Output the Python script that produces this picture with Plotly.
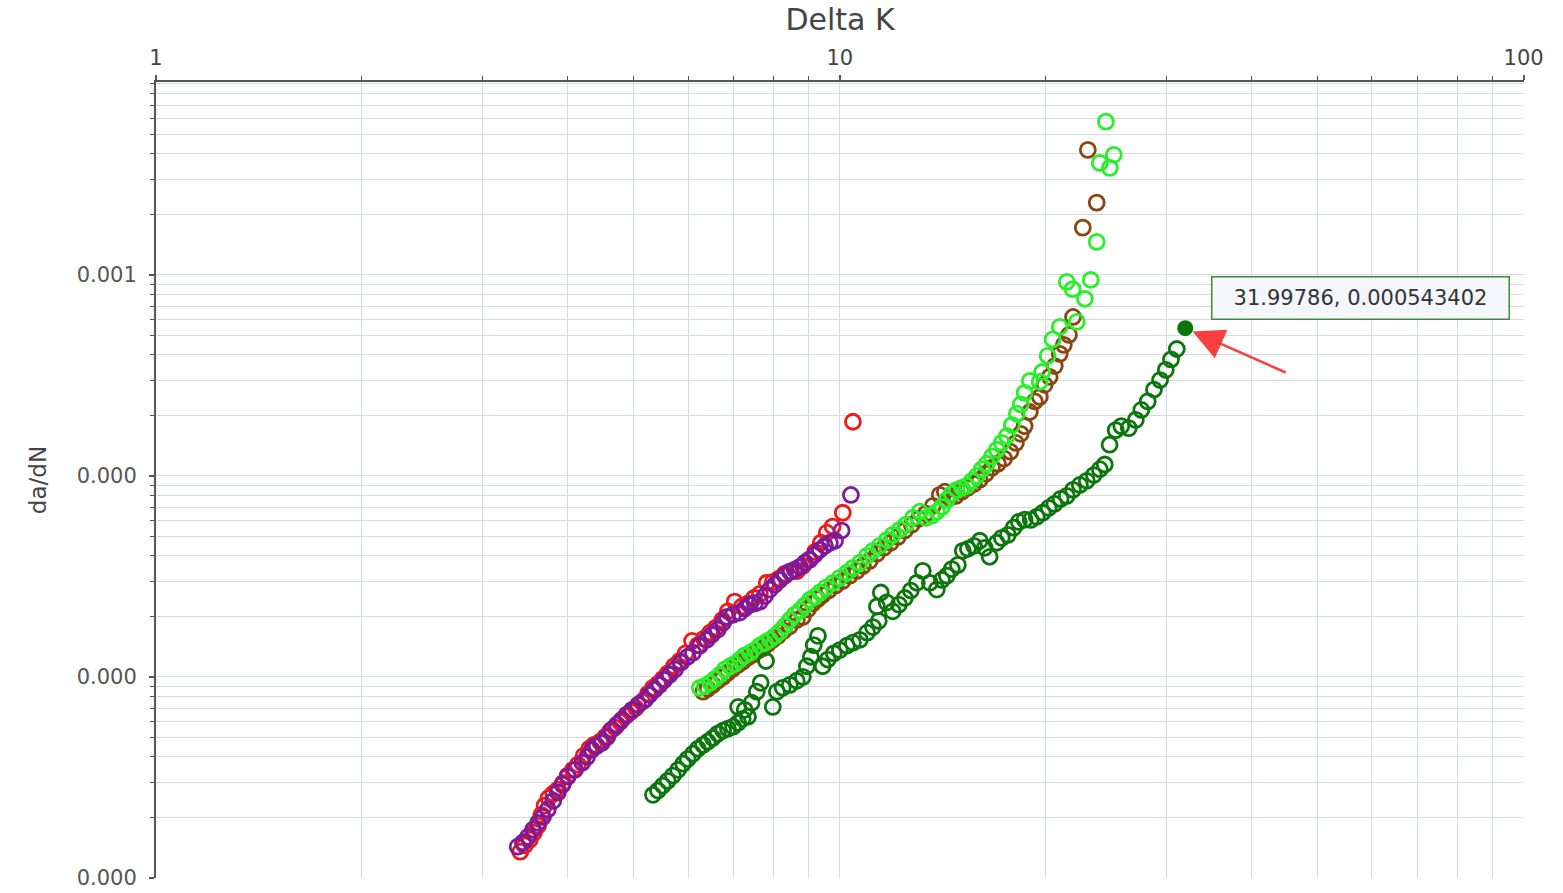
import math
import plotly.graph_objects as go

# Crack growth rate da/dN versus stress intensity range Delta K, five specimens.
red_dk = [3.41, 3.46, 3.52, 3.57, 3.62, 3.66, 3.70, 3.75, 3.81, 3.87, 3.94, 4.00, 4.07, 4.14, 4.22,
          4.30, 4.37, 4.46, 4.54, 4.61, 4.69, 4.77, 4.87, 4.95, 5.03, 5.14, 5.24, 5.33, 5.42, 5.51,
          5.60, 5.72, 5.83, 5.95, 6.08, 6.20, 6.33, 6.46, 6.59, 6.73, 6.86, 7.02, 7.19, 7.34, 7.49,
          7.64, 7.82, 7.98, 8.14, 8.31, 8.48, 8.65, 8.83, 9.01, 9.20, 9.38, 9.57, 9.76, 10.10, 10.45]
red_dadn = [1.35e-6, 1.45e-6, 1.55e-6, 1.68e-6, 1.82e-6, 2.06e-6, 2.29e-6, 2.50e-6, 2.63e-6, 2.75e-6,
            2.97e-6, 3.23e-6, 3.45e-6, 3.66e-6, 4.05e-6, 4.39e-6, 4.59e-6, 4.76e-6, 5.03e-6, 5.35e-6,
            5.60e-6, 5.97e-6, 6.41e-6, 6.71e-6, 7.01e-6, 7.53e-6, 8.24e-6, 8.83e-6, 9.24e-6, 9.78e-6,
            1.04e-5, 1.13e-5, 1.20e-5, 1.31e-5, 1.51e-5, 1.44e-5, 1.55e-5, 1.66e-5, 1.76e-5, 1.92e-5,
            2.12e-5, 2.37e-5, 2.24e-5, 2.32e-5, 2.47e-5, 2.59e-5, 2.94e-5, 2.97e-5, 3.08e-5, 3.26e-5,
            3.34e-5, 3.36e-5, 3.57e-5, 3.83e-5, 4.19e-5, 4.65e-5, 5.22e-5, 5.60e-5, 6.56e-5, 1.86e-4]

purple_dk = [3.38, 3.44, 3.50, 3.56, 3.62, 3.68, 3.74, 3.81, 3.87, 3.93, 4.00, 4.10, 4.20, 4.27, 4.34,
             4.41, 4.49, 4.57, 4.64, 4.72, 4.80, 4.88, 4.97, 5.07, 5.19, 5.27, 5.36, 5.45, 5.54, 5.64,
             5.74, 5.86, 5.99, 6.10, 6.24, 6.39, 6.50, 6.63, 6.75, 6.84, 6.98, 7.14, 7.26, 7.39, 7.51,
             7.64, 7.77, 7.90, 8.04, 8.17, 8.31, 8.45, 8.59, 8.74, 8.89, 9.04, 9.19, 9.35, 9.51, 9.67,
             9.84, 10.06, 10.38]
purple_dadn = [1.43e-6, 1.50e-6, 1.60e-6, 1.74e-6, 1.88e-6, 2.01e-6, 2.19e-6, 2.42e-6, 2.66e-6, 2.91e-6,
               3.19e-6, 3.45e-6, 3.74e-6, 4.00e-6, 4.34e-6, 4.54e-6, 4.70e-6, 5.03e-6, 5.47e-6, 5.79e-6,
               6.12e-6, 6.49e-6, 6.86e-6, 7.27e-6, 7.70e-6, 8.15e-6, 8.63e-6, 9.13e-6, 9.67e-6, 1.025e-5,
               1.09e-5, 1.18e-5, 1.26e-5, 1.32e-5, 1.43e-5, 1.53e-5, 1.62e-5, 1.72e-5, 1.86e-5, 1.99e-5,
               2.04e-5, 2.09e-5, 2.19e-5, 2.29e-5, 2.32e-5, 2.37e-5, 2.53e-5, 2.72e-5, 2.88e-5, 3.04e-5,
               3.19e-5, 3.34e-5, 3.42e-5, 3.53e-5, 3.70e-5, 3.83e-5, 4.05e-5, 4.29e-5, 4.49e-5, 4.65e-5,
               4.76e-5, 5.35e-5, 8.04e-5]

brown_dk = [6.31, 6.41, 6.52, 6.63, 6.75, 6.86, 6.98, 7.10, 7.21, 7.34, 7.46, 7.59, 7.72, 7.85, 7.98,
            8.12, 8.28, 8.45, 8.65, 8.83, 8.98, 9.13, 9.29, 9.44, 9.63, 9.86, 10.10, 10.34, 10.59, 10.81,
            11.06, 11.33, 11.60, 11.87, 12.16, 12.45, 12.74, 13.05, 13.36, 13.68, 14.00, 14.24, 14.48,
            14.78, 15.08, 15.39, 15.71, 16.02, 16.35, 16.69, 17.03, 17.39, 17.76, 18.09, 18.39, 18.63,
            18.96, 19.28, 19.61, 19.93, 20.27, 20.62, 20.97, 21.26, 21.63, 21.93, 22.66, 23.75, 23.05]
brown_dadn = [8.44e-6, 8.73e-6, 9.13e-6, 9.57e-6, 1.00e-5, 1.05e-5, 1.10e-5, 1.15e-5, 1.19e-5, 1.25e-5,
              1.29e-5, 1.35e-5, 1.39e-5, 1.46e-5, 1.53e-5, 1.60e-5, 1.70e-5, 1.79e-5, 1.92e-5, 1.99e-5,
              2.17e-5, 2.32e-5, 2.44e-5, 2.56e-5, 2.69e-5, 2.85e-5, 3.00e-5, 3.19e-5, 3.37e-5, 3.57e-5,
              3.78e-5, 4.10e-5, 4.39e-5, 4.65e-5, 4.97e-5, 5.35e-5, 5.72e-5, 6.12e-5, 6.50e-5, 7.10e-5,
              8.05e-5, 8.35e-5, 7.80e-5, 7.96e-5, 8.35e-5, 8.73e-5, 9.13e-5, 9.57e-5, 1.025e-4, 1.10e-4,
              1.15e-4, 1.22e-4, 1.32e-4, 1.46e-4, 1.62e-4, 1.77e-4, 2.08e-4, 2.35e-4, 2.47e-4, 2.84e-4,
              3.11e-4, 3.52e-4, 4.05e-4, 4.49e-4, 5.03e-4, 6.18e-4, 1.72e-3, 2.29e-3, 4.19e-3]

lime_dk = [6.24, 6.35, 6.46, 6.57, 6.68, 6.79, 6.91, 7.02, 7.14, 7.26, 7.39, 7.51, 7.64, 7.77, 7.90,
           8.04, 8.17, 8.31, 8.45, 8.59, 8.74, 8.89, 9.04, 9.19, 9.35, 9.54, 9.77, 10.00, 10.24, 10.45,
           10.70, 10.96, 11.18, 11.44, 11.72, 11.95, 12.24, 12.49, 12.79, 13.09, 13.36, 13.63, 13.86,
           14.10, 14.34, 14.58, 14.83, 15.08, 15.34, 15.60, 15.86, 16.13, 16.40, 16.69, 16.97, 17.25,
           17.55, 17.85, 18.15, 18.39, 18.63, 18.96, 19.60, 19.76, 20.13, 20.47, 20.97, 22.21, 22.82,
           21.47, 21.90, 23.28, 23.75, 24.00, 24.82, 25.15, 24.50]
lime_dadn = [8.83e-6, 9.02e-6, 9.35e-6, 9.78e-6, 1.025e-5, 1.09e-5, 1.13e-5, 1.16e-5, 1.22e-5, 1.28e-5,
             1.32e-5, 1.36e-5, 1.43e-5, 1.48e-5, 1.53e-5, 1.60e-5, 1.68e-5, 1.79e-5, 1.92e-5, 2.04e-5,
             2.14e-5, 2.27e-5, 2.42e-5, 2.50e-5, 2.63e-5, 2.78e-5, 2.94e-5, 3.11e-5, 3.30e-5, 3.49e-5,
             3.70e-5, 4.00e-5, 4.24e-5, 4.49e-5, 4.81e-5, 5.09e-5, 5.41e-5, 5.72e-5, 6.19e-5, 6.64e-5,
             6.19e-5, 6.34e-5, 6.64e-5, 7.01e-5, 7.61e-5, 8.15e-5, 8.53e-5, 8.73e-5, 8.92e-5, 9.46e-5,
             1.00e-4, 1.08e-4, 1.15e-4, 1.25e-4, 1.35e-4, 1.46e-4, 1.58e-4, 1.79e-4, 2.04e-4, 2.27e-4,
             2.59e-4, 2.97e-4, 2.94e-4, 3.29e-4, 3.96e-4, 4.78e-4, 5.52e-4, 5.84e-4, 7.61e-4, 9.24e-4,
             8.50e-4, 9.46e-4, 1.46e-3, 3.61e-3, 3.41e-3, 3.96e-3, 5.79e-3]

green_dk = [5.33, 5.42, 5.51, 5.60, 5.70, 5.80, 5.90, 5.99, 6.10, 6.20, 6.31, 6.41, 6.52, 6.63, 6.75,
            6.86, 6.98, 7.10, 7.21, 7.34, 7.10, 7.26, 7.43, 7.56, 7.66, 7.80, 7.98, 8.09, 8.25, 8.45,
            8.65, 8.83, 8.95, 9.07, 9.16, 9.29, 9.44, 9.60, 9.80, 10.00, 10.24, 10.45, 10.70, 10.96,
            11.18, 11.40, 11.33, 11.48, 11.71, 11.95, 12.20, 12.45, 12.70, 12.96, 13.22, 13.54, 13.86,
            14.10, 14.34, 14.58, 14.88, 15.13, 15.39, 15.71, 16.02, 16.29, 16.56, 16.96, 17.25, 17.61,
            17.96, 18.27, 18.63, 19.02, 19.41, 19.80, 20.20, 20.60, 21.03, 21.47, 21.93, 22.44, 22.97,
            23.52, 24.00, 24.40, 24.80, 25.32, 25.80, 26.46, 27.09, 27.60, 28.20, 28.80, 29.40, 29.97,
            30.50, 31.10]
green_dadn = [2.59e-6, 2.72e-6, 2.88e-6, 3.04e-6, 3.23e-6, 3.45e-6, 3.70e-6, 3.91e-6, 4.15e-6, 4.39e-6,
              4.59e-6, 4.76e-6, 4.97e-6, 5.22e-6, 5.41e-6, 5.53e-6, 5.66e-6, 5.91e-6, 6.19e-6, 6.34e-6,
              7.09e-6, 6.86e-6, 7.44e-6, 8.44e-6, 9.35e-6, 1.20e-5, 7.09e-6, 8.44e-6, 8.83e-6, 9.13e-6,
              9.57e-6, 1.00e-5, 1.13e-5, 1.26e-5, 1.44e-5, 1.60e-5, 1.13e-5, 1.22e-5, 1.31e-5, 1.36e-5,
              1.43e-5, 1.48e-5, 1.53e-5, 1.66e-5, 1.77e-5, 1.90e-5, 2.24e-5, 2.63e-5, 2.35e-5, 2.12e-5,
              2.29e-5, 2.47e-5, 2.69e-5, 2.94e-5, 3.37e-5, 2.94e-5, 2.72e-5, 3.04e-5, 3.19e-5, 3.44e-5,
              3.61e-5, 4.24e-5, 4.34e-5, 4.49e-5, 4.76e-5, 4.39e-5, 3.96e-5, 4.65e-5, 4.92e-5, 5.09e-5,
              5.53e-5, 5.91e-5, 6.06e-5, 6.04e-5, 6.26e-5, 6.56e-5, 6.93e-5, 7.26e-5, 7.69e-5, 7.96e-5,
              8.53e-5, 9.02e-5, 9.46e-5, 1.01e-4, 1.08e-4, 1.14e-4, 1.43e-4, 1.69e-4, 1.77e-4, 1.73e-4,
              1.90e-4, 2.13e-4, 2.35e-4, 2.69e-4, 3.00e-4, 3.37e-4, 3.80e-4, 4.28e-4]

# Selected point shown with its value label
picked_dk = 31.99786
picked_dadn = 0.000543402

x_major = [1, 10, 100]
x_labels = ["1", "10", "100"]
y_major = [1e-6, 1e-5, 1e-4, 1e-3]
y_labels = ["0.000", "0.000", "0.000", "0.001"]
x_minor = [k * 10 ** e for e in (0, 1) for k in range(2, 10)]
y_minor = [k * 10.0 ** e for e in (-6, -5, -4, -3) for k in range(2, 10)]

FONT = "DejaVu Sans"
GRID = "#d5dae5"
AXIS = "#555555"


def open_markers(x, y, color, name):
    return go.Scatter(
        x=x, y=y, mode="markers", name=name, hoverinfo="x+y",
        marker=dict(symbol="circle-open", size=15, color=color,
                    line=dict(width=2.8, color=color)),
    )


fig = go.Figure()
fig.add_trace(open_markers(red_dk, red_dadn, "#f01818", "Specimen 1"))
fig.add_trace(open_markers(purple_dk, purple_dadn, "#7d1a9c", "Specimen 2"))
fig.add_trace(open_markers(brown_dk, brown_dadn, "#8b4513", "Specimen 3"))
fig.add_trace(open_markers(lime_dk, lime_dadn, "#28f028", "Specimen 4"))
fig.add_trace(open_markers(green_dk, green_dadn, "#0c760c", "Specimen 5"))
fig.add_trace(go.Scatter(
    x=[picked_dk], y=[picked_dadn], mode="markers", name="Selected",
    marker=dict(symbol="circle", size=16, color="#0c760c"),
))

fig.update_layout(
    width=1563, height=893,
    margin=dict(l=156, r=39, t=82, b=15, autoexpand=False),
    paper_bgcolor="white", plot_bgcolor="white",
    showlegend=False,
    font=dict(family=FONT, color="#555555"),
)

fig.update_xaxes(
    type="log", range=[0, 2.0005], side="top", automargin=False,
    tickmode="array", tickvals=x_major, ticktext=x_labels,
    showline=True, linecolor=AXIS, linewidth=2,
    ticks="outside", ticklen=5, tickwidth=1.5, tickcolor=AXIS,
    ticklabelstandoff=2,
    showgrid=True, gridcolor=GRID, gridwidth=1.3, zeroline=False,
    tickfont=dict(family=FONT, size=21, color="#444444"),
    title=dict(text="Delta K", font=dict(family=FONT, size=30, color="#444444"), standoff=6),
    minor=dict(tickvals=x_minor, ticks="outside", ticklen=4, tickwidth=1.2, tickcolor=AXIS,
               showgrid=True, gridcolor=GRID, gridwidth=1.3),
)

fig.update_yaxes(
    type="log", range=[-6.0005, -2.04], automargin=False,
    tickmode="array", tickvals=y_major, ticktext=y_labels,
    showline=True, linecolor=AXIS, linewidth=2,
    ticks="outside", ticklen=5, tickwidth=1.5, tickcolor=AXIS,
    ticklabelstandoff=8,
    showgrid=True, gridcolor=GRID, gridwidth=1.3, zeroline=False,
    tickfont=dict(family=FONT, size=21, color="#555555"),
    title=dict(text="da/dN", font=dict(family=FONT, size=23, color="#444444"), standoff=24),
    minor=dict(tickvals=y_minor, ticks="outside", ticklen=4, tickwidth=1.2, tickcolor=AXIS,
               showgrid=True, gridcolor=GRID, gridwidth=1.3),
)

# Log axes place annotations in log10 units
px_log = math.log10(picked_dk)
py_log = math.log10(picked_dadn)

# Red pointer towards the selected point
fig.add_annotation(
    x=px_log, y=py_log, xref="x", yref="y",
    ax=102, ay=45, axref="pixel", ayref="pixel",
    text="", showarrow=True,
    arrowhead=2, arrowsize=2.4, arrowwidth=2.6,
    arrowcolor="rgba(250,30,30,0.85)", standoff=8,
)

# Value label box
fig.add_annotation(
    x=px_log, y=py_log, xref="x", yref="y",
    text=f"{picked_dk}, {picked_dadn}", showarrow=False,
    xshift=175, yshift=30,
    font=dict(family=FONT, size=21, color="#333333"),
    bgcolor="#f3f6fa", bordercolor="#3f8a3f", borderwidth=1.5,
    borderpad=3, width=290, height=35,
)

fig.write_html("out.html")
